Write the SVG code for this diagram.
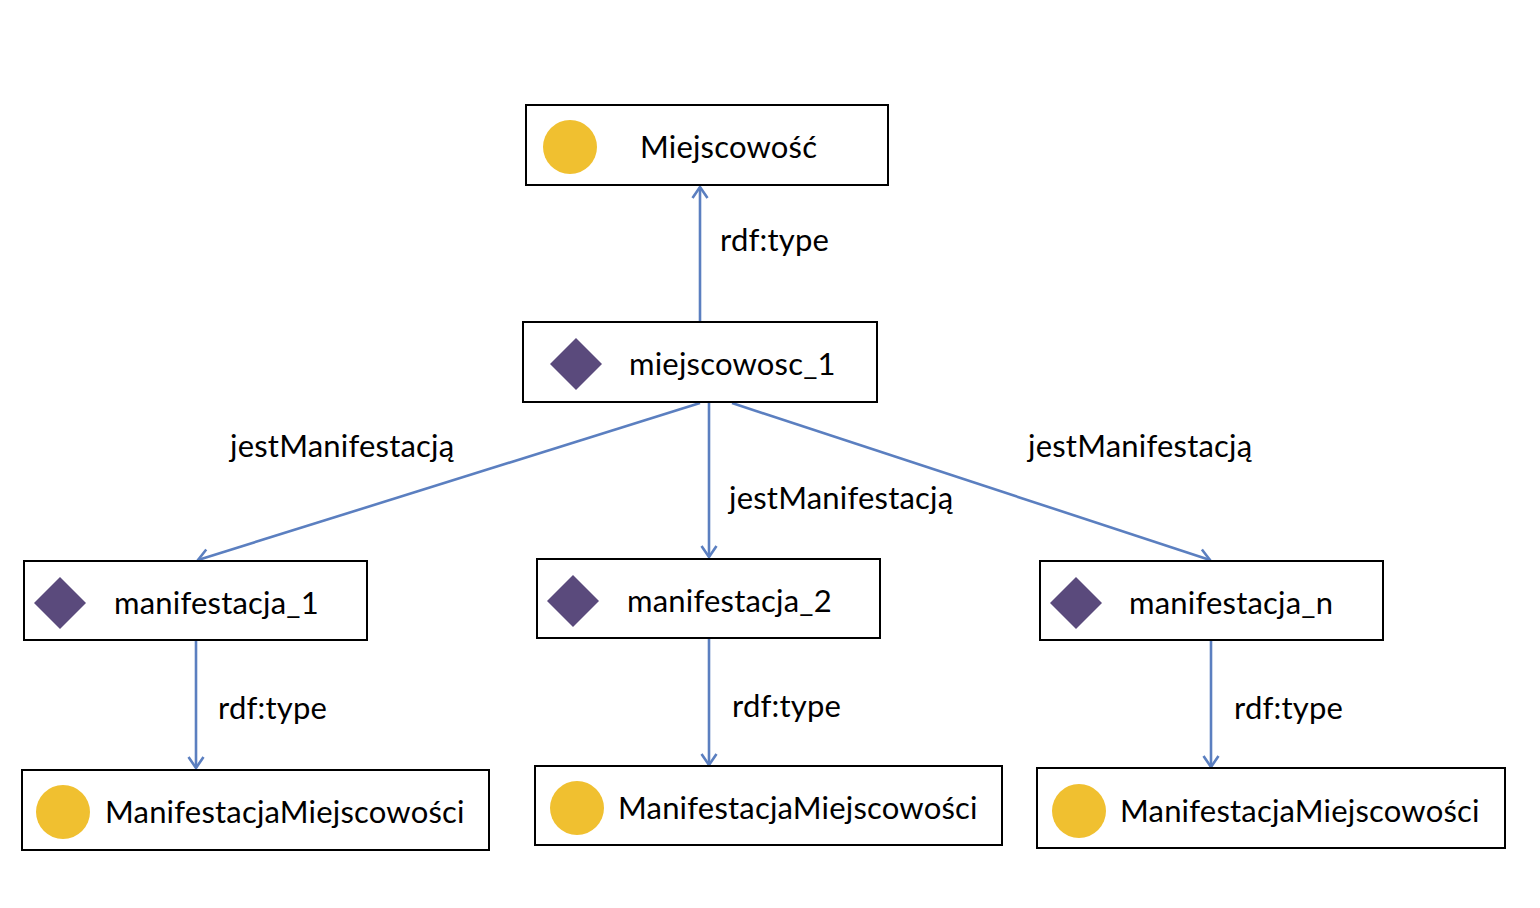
<svg xmlns="http://www.w3.org/2000/svg" width="1540" height="908" viewBox="0 0 1540 908">
<style>
.box{fill:#fff;stroke:#000;stroke-width:2}
.cls{fill:#F0C030}
.ind{fill:#5A4A7C}
.t{font-family:Lato,"Liberation Sans",sans-serif;font-size:31px;letter-spacing:0.2px;fill:#000}
.e{stroke:#5B7FC0;stroke-width:2.6;fill:none}
.l{font-family:Lato,"Liberation Sans",sans-serif;font-size:31px;letter-spacing:0.2px;fill:#000}
</style>
<defs>
<marker id="a" viewBox="0 0 14 18" refX="12" refY="9" markerWidth="14" markerHeight="18" markerUnits="userSpaceOnUse" orient="auto">
<path d="M1,1.5 L12,9 L1,16.5" fill="none" stroke="#5B7FC0" stroke-width="2.6"/>
</marker>
</defs>
<rect width="1540" height="908" fill="#fff"/>
<g id="connectors">
<line class="e" x1="700" y1="322" x2="700" y2="187" marker-end="url(#a)"/>
<line class="e" x1="700" y1="403" x2="198" y2="560" marker-end="url(#a)"/>
<line class="e" x1="709" y1="403" x2="709" y2="557" marker-end="url(#a)"/>
<line class="e" x1="732" y1="403" x2="1210" y2="560" marker-end="url(#a)"/>
<line class="e" x1="196" y1="641" x2="196" y2="768" marker-end="url(#a)"/>
<line class="e" x1="709" y1="639" x2="709" y2="765" marker-end="url(#a)"/>
<line class="e" x1="1211" y1="641" x2="1211" y2="767" marker-end="url(#a)"/>
<text class="l" x="720" y="251">rdf:type</text>
<text class="l" x="230" y="457">jestManifestacją</text>
<text class="l" x="729" y="509">jestManifestacją</text>
<text class="l" x="1028" y="457">jestManifestacją</text>
<text class="l" x="218" y="719">rdf:type</text>
<text class="l" x="732" y="717">rdf:type</text>
<text class="l" x="1234" y="719">rdf:type</text>
</g>
<g id="miejscowosc">
<rect class="box" x="526" y="105" width="362" height="80"/>
<circle class="cls" cx="570" cy="147" r="27"/>
<text class="t" x="640" y="158">Miejscowość</text>
</g>
<g id="miejscowosc_1">
<rect class="box" x="523" y="322" width="354" height="80"/>
<polygon class="ind" points="576,338 602,364 576,390 550,364"/>
<text class="t" x="629" y="375">miejscowosc_1</text>
</g>
<g id="manifestacja_1">
<rect class="box" x="24" y="561" width="343" height="79"/>
<polygon class="ind" points="60,577 86,603 60,629 34,603"/>
<text class="t" x="114" y="614">manifestacja_1</text>
</g>
<g id="manifestacja_2">
<rect class="box" x="537" y="559" width="343" height="79"/>
<polygon class="ind" points="573,575 599,601 573,627 547,601"/>
<text class="t" x="627" y="612">manifestacja_2</text>
</g>
<g id="manifestacja_n">
<rect class="box" x="1040" y="561" width="343" height="79"/>
<polygon class="ind" points="1076,577 1102,603 1076,629 1050,603"/>
<text class="t" x="1129" y="614">manifestacja_n</text>
</g>
<g id="klasa_1">
<rect class="box" x="22" y="770" width="467" height="80"/>
<circle class="cls" cx="63" cy="812" r="27"/>
<text class="t" x="105" y="823">ManifestacjaMiejscowości</text>
</g>
<g id="klasa_2">
<rect class="box" x="535" y="766" width="467" height="79"/>
<circle class="cls" cx="577" cy="808" r="27"/>
<text class="t" x="618" y="819">ManifestacjaMiejscowości</text>
</g>
<g id="klasa_3">
<rect class="box" x="1037" y="768" width="468" height="80"/>
<circle class="cls" cx="1079" cy="811" r="27"/>
<text class="t" x="1120" y="822">ManifestacjaMiejscowości</text>
</g>
</svg>
